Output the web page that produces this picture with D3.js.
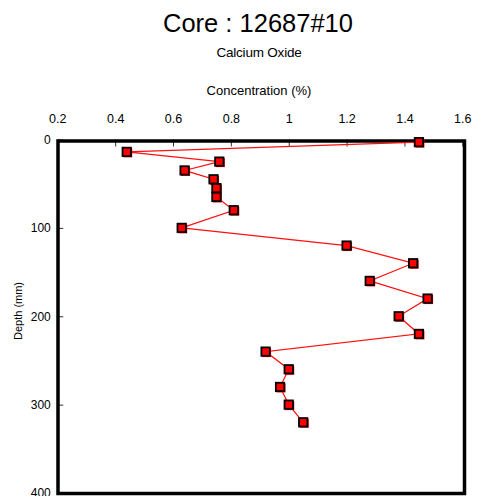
<!DOCTYPE html>
<html>
<head>
<meta charset="utf-8">
<script src="https://cdn.jsdelivr.net/npm/d3@7/dist/d3.min.js"></script>
<style>
  html, body { margin: 0; padding: 0; background: #fff; }
  svg { display: block; font-family: "Liberation Sans", Arial, sans-serif; }
</style>
</head>
<body>
<svg id="chart" width="480" height="496"></svg>
<script>
// Calcium oxide concentration down core 12687#10
const depths = [3, 14, 25, 35, 45, 55, 65, 80, 100, 120, 140, 160, 180, 200, 220, 240, 260, 280, 300, 320];
const concentration = [1.45, 0.44, 0.76, 0.64, 0.74, 0.75, 0.75, 0.81, 0.63, 1.2, 1.43, 1.28, 1.48, 1.38, 1.45, 0.92, 1.0, 0.97, 1.0, 1.05];
const xTicks = [0.2, 0.4, 0.6, 0.8, 1, 1.2, 1.4, 1.6];
const yTicks = [0, 100, 200, 300, 400];

const svg = d3.select("#chart");

const x = d3.scaleLinear().domain([0.2, 1.6]).range([57.3, 462.3]);
const y = d3.scaleLinear().domain([0, 400]).range([139.5, 493]);

// Titles
svg.append("text").attr("x", 258).attr("y", 31.5).attr("text-anchor", "middle")
  .attr("font-size", 25.5).attr("fill", "#000").text("Core : 12687#10");
svg.append("text").attr("x", 259).attr("y", 57).attr("text-anchor", "middle")
  .attr("font-size", 13.5).attr("fill", "#000").attr("letter-spacing", -0.2).text("Calcium Oxide");
svg.append("text").attr("x", 259).attr("y", 95).attr("text-anchor", "middle")
  .attr("font-size", 13).attr("fill", "#000").text("Concentration (%)");
svg.append("text")
  .attr("transform", "translate(22,311) rotate(-90)")
  .attr("text-anchor", "middle").attr("font-size", 11).attr("fill", "#000")
  .text("Depth (mm)");

// Axes with inward ticks
const xAxis = d3.axisTop(x).tickValues(xTicks).tickFormat(d3.format("~g"))
  .tickSizeInner(-7).tickSizeOuter(0).tickPadding(16.5);
const gx = svg.append("g").attr("transform", "translate(0,139.5)").call(xAxis);
gx.select(".domain").remove();
gx.selectAll("line").attr("stroke", "#333");
gx.selectAll("text").attr("font-size", 12.5).attr("fill", "#000")
  .attr("font-family", "Liberation Sans, Arial, sans-serif");

const yAxis = d3.axisLeft(y).tickValues(yTicks)
  .tickSizeInner(-6).tickSizeOuter(0).tickPadding(6.5);
const gy = svg.append("g").attr("transform", "translate(57.3,0)").call(yAxis);
gy.select(".domain").remove();
gy.selectAll("line").attr("stroke", "#333");
gy.selectAll("text").attr("font-size", 12).attr("fill", "#000")
  .attr("font-family", "Liberation Sans, Arial, sans-serif");

// Frame
svg.append("rect")
  .attr("x", 58).attr("y", 141)
  .attr("width", 464.5 - 58).attr("height", 493.5 - 141)
  .attr("fill", "none").attr("stroke", "#000").attr("stroke-width", 3.5);

// Profile line
const pts = depths.map((d, i) => ({ depth: d, value: concentration[i] }));
const line = d3.line().x(d => x(d.value)).y(d => y(d.depth));
svg.append("path").datum(pts)
  .attr("d", line).attr("fill", "none")
  .attr("stroke", "#ff1010").attr("stroke-width", 1.2);

// Square markers with a slight red offset edge
const m = svg.append("g");
m.selectAll("rect.shadow").data(pts).join("rect").attr("class", "shadow")
  .attr("x", d => x(d.value) - 4.5 + 1).attr("y", d => y(d.depth) - 4.5 + 1)
  .attr("width", 9).attr("height", 9).attr("fill", "#ff0000");
m.selectAll("rect.mark").data(pts).join("rect").attr("class", "mark")
  .attr("x", d => x(d.value) - 4.2).attr("y", d => y(d.depth) - 4.2)
  .attr("width", 8.4).attr("height", 8.4)
  .attr("fill", "#ff0000").attr("stroke", "#000").attr("stroke-width", 1.8);
</script>
</body>
</html>
